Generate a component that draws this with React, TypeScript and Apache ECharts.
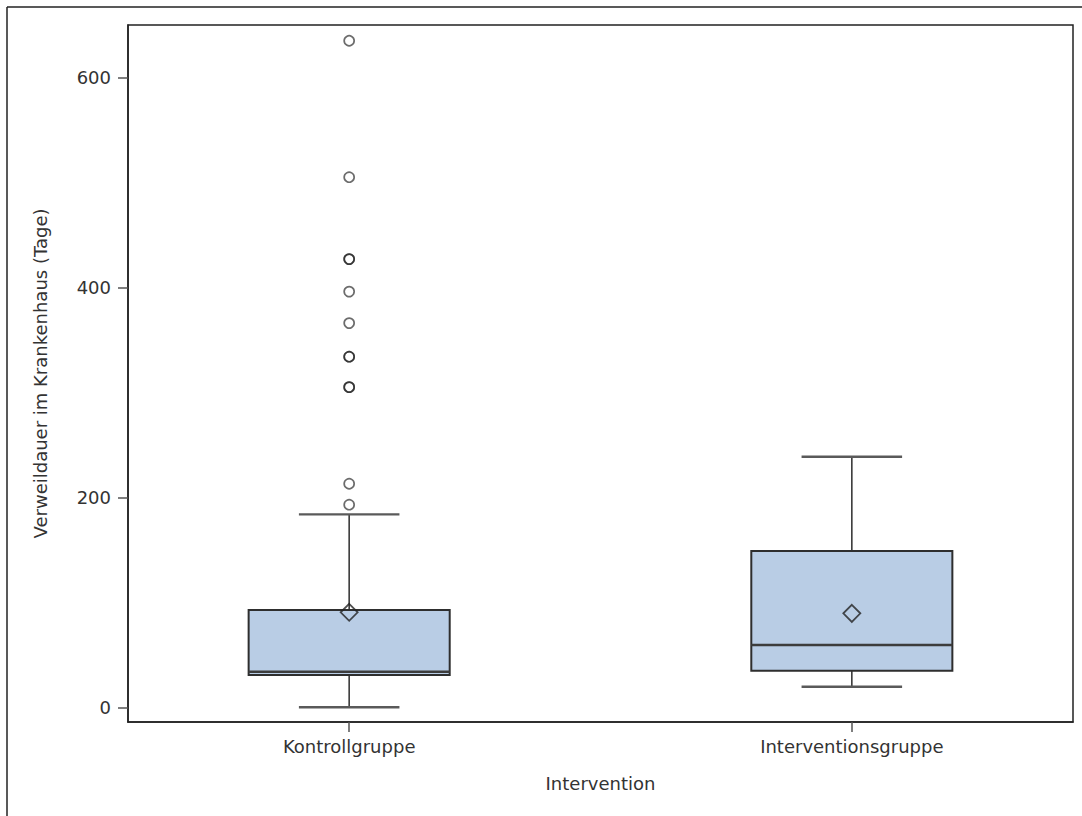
import React, { useEffect, useRef } from 'react';
import * as echarts from 'echarts';

// ---- data ----
const categories = ['Kontrollgruppe', 'Interventionsgruppe'];
const categoryPositions = [1, 2];
const whiskerLow = [0, 19.6];
const quartile1 = [30.8, 34.9];
const medians = [33.8, 59.3];
const quartile3 = [92.7, 148.9];
const whiskerHigh = [183.8, 238.7];
const means = [90.5, 89.5];
const outliersKontroll = [635, 505, 427, 427, 396, 366, 334, 334, 305, 305, 213, 193];
const yTickValues = [0, 200, 400, 600];

const FONT = 'DejaVu Sans';
const TEXT_COLOR = '#333333';

export default function App() {
  const ref = useRef<HTMLDivElement>(null);

  useEffect(() => {
    if (!ref.current) return;
    const chart = echarts.init(ref.current, null, { renderer: 'svg' });

    const boxData = categoryPositions.map((x, i) => [
      x,
      whiskerLow[i],
      quartile1[i],
      medians[i],
      quartile3[i],
      whiskerHigh[i],
    ]);

    const renderBox = (params: any, api: any) => {
      const x = api.value(0);
      const pMin = api.coord([x, api.value(1)]);
      const pQ1 = api.coord([x, api.value(2)]);
      const pMed = api.coord([x, api.value(3)]);
      const pQ3 = api.coord([x, api.value(4)]);
      const pMax = api.coord([x, api.value(5)]);
      const w = api.size([0.4, 0])[0];
      const cap = w / 2;
      const cx = pMed[0];
      const whiskerStyle = { stroke: '#3a3a3a', lineWidth: 1.6 };
      const capStyle = { stroke: '#5a5a5a', lineWidth: 2.4 };
      return {
        type: 'group',
        children: [
          { type: 'line', shape: { x1: cx, y1: pQ3[1], x2: cx, y2: pMax[1] }, style: whiskerStyle },
          { type: 'line', shape: { x1: cx, y1: pQ1[1], x2: cx, y2: pMin[1] }, style: whiskerStyle },
          { type: 'line', shape: { x1: cx - cap / 2, y1: pMax[1], x2: cx + cap / 2, y2: pMax[1] }, style: capStyle },
          { type: 'line', shape: { x1: cx - cap / 2, y1: pMin[1], x2: cx + cap / 2, y2: pMin[1] }, style: capStyle },
          {
            type: 'rect',
            shape: { x: cx - w / 2, y: pQ3[1], width: w, height: pQ1[1] - pQ3[1] },
            style: { fill: '#B9CDE5', stroke: '#2e2e2e', lineWidth: 2 },
          },
          {
            type: 'line',
            shape: { x1: cx - w / 2, y1: pMed[1], x2: cx + w / 2, y2: pMed[1] },
            style: { stroke: '#3c3c3c', lineWidth: 2.4 },
          },
        ],
      };
    };

    const option: any = {
      animation: false,
      backgroundColor: '#ffffff',
      graphic: [
        { type: 'line', shape: { x1: 7, y1: 7, x2: 1082, y2: 7 }, style: { stroke: '#222', lineWidth: 1.5 }, silent: true },
        { type: 'line', shape: { x1: 7, y1: 7, x2: 7, y2: 816 }, style: { stroke: '#222', lineWidth: 1.5 }, silent: true },
      ],
      grid: {
        left: 128,
        top: 25,
        width: 945,
        height: 697,
        show: true,
        borderColor: '#222',
        borderWidth: 1.5,
        backgroundColor: 'transparent',
      },
      xAxis: {
        type: 'value',
        min: 0.56,
        max: 2.44,
        name: 'Intervention',
        nameLocation: 'middle',
        nameGap: 52,
        nameTextStyle: { fontFamily: FONT, fontSize: 18, color: TEXT_COLOR },
        axisLine: { show: true, onZero: false, lineStyle: { color: '#222', width: 1.5 } },
        axisTick: { show: true, customValues: categoryPositions, length: 10, lineStyle: { color: '#555', width: 1.5 } },
        axisLabel: {
          customValues: categoryPositions,
          margin: 15,
          fontFamily: FONT,
          fontSize: 18,
          color: TEXT_COLOR,
          formatter: (v: number) => {
            const idx = categoryPositions.indexOf(Math.round(v * 1000) / 1000);
            return idx >= 0 ? categories[idx] : '';
          },
        },
        splitLine: { show: false },
      },
      yAxis: {
        type: 'value',
        min: -14,
        max: 650,
        name: 'Verweildauer im Krankenhaus (Tage)',
        nameLocation: 'middle',
        nameGap: 79,
        nameTextStyle: { fontFamily: FONT, fontSize: 18, color: TEXT_COLOR },
        axisLine: { show: true, onZero: false, lineStyle: { color: '#222', width: 1.5 } },
        axisTick: { show: true, customValues: yTickValues, length: 10, lineStyle: { color: '#555', width: 1.5 } },
        axisLabel: {
          customValues: yTickValues,
          margin: 17,
          fontFamily: FONT,
          fontSize: 18,
          color: TEXT_COLOR,
        },
        splitLine: { show: false },
      },
      series: [
        {
          type: 'custom',
          name: 'Box',
          data: boxData,
          encode: { x: 0, y: [1, 2, 3, 4, 5] },
          renderItem: renderBox,
          silent: true,
          z: 2,
        },
        {
          type: 'scatter',
          name: 'Ausreißer',
          data: outliersKontroll.map((v) => [categoryPositions[0], v]),
          symbol: 'circle',
          symbolSize: 10,
          itemStyle: { color: 'rgba(255,255,255,0)', borderColor: 'rgba(25,25,25,0.8)', borderWidth: 1.7 },
          emphasis: { disabled: true },
          silent: true,
          z: 3,
        },
        {
          type: 'scatter',
          name: 'Mittelwert',
          data: categoryPositions.map((x, i) => [x, means[i]]),
          symbol: 'diamond',
          symbolSize: 17,
          itemStyle: { color: 'rgba(255,255,255,0)', borderColor: '#222', borderWidth: 1.8 },
          emphasis: { disabled: true },
          silent: true,
          z: 4,
        },
      ],
    };

    chart.setOption(option);
    return () => chart.dispose();
  }, []);

  return (
    <div
      ref={ref}
      style={{ position: 'absolute', left: 0, top: 0, width: 1082, height: 816, background: '#fff' }}
    />
  );
}
